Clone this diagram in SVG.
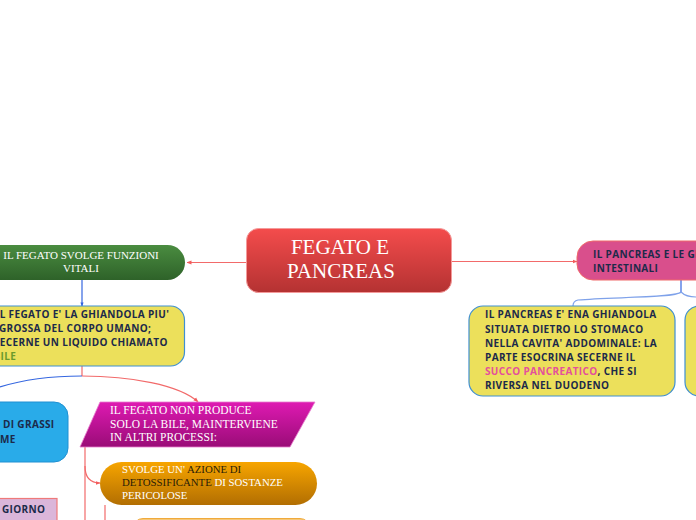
<svg xmlns="http://www.w3.org/2000/svg" width="696" height="520" viewBox="0 0 696 520">
<defs>
<linearGradient id="gRed" x1="0" y1="0" x2="0" y2="1"><stop offset="0" stop-color="#f44c4c"/><stop offset="1" stop-color="#b43232"/></linearGradient>
<linearGradient id="gGreen" x1="0" y1="0" x2="0" y2="1"><stop offset="0" stop-color="#4a8c40"/><stop offset="1" stop-color="#2e6229"/></linearGradient>
<linearGradient id="gMag" x1="0" y1="0" x2="0" y2="1"><stop offset="0" stop-color="#de1ab2"/><stop offset="1" stop-color="#9a0c77"/></linearGradient>
<linearGradient id="gOr" x1="0" y1="0" x2="0" y2="1"><stop offset="0" stop-color="#f7a500"/><stop offset="1" stop-color="#b26e02"/></linearGradient>
<marker id="aRed" viewBox="0 0 10 10" refX="9" refY="5" markerWidth="5" markerHeight="5" orient="auto" markerUnits="userSpaceOnUse"><path d="M0,1 L10,5 L0,9 z" fill="#f25c5c"/></marker>
<marker id="aBlue" viewBox="0 0 10 10" refX="9" refY="5" markerWidth="4" markerHeight="4" orient="auto" markerUnits="userSpaceOnUse"><path d="M0,1 L10,5 L0,9 z" fill="#2f62e0"/></marker>
</defs>
<style>
.serif{font-family:"Liberation Serif","Times New Roman",serif;fill:#ffffff}
.sans{font-family:"Open Sans","Noto Sans","DejaVu Sans",sans-serif;font-weight:700;font-size:10px;letter-spacing:0.35px;fill:#1c2a4a}
.red{fill:none;stroke:#f26a6a;stroke-width:1.2}
.blue{fill:none;stroke:#3466e0;stroke-width:1.2}
.lblue{fill:none;stroke:#7fa2ea;stroke-width:1.2}
.yel{fill:#ece05b;stroke:#3f8fd2;stroke-width:1.2}
</style>
<rect width="696" height="520" fill="#ffffff"/>
<g id="connectors">
<path class="red" d="M247,262.5 L187,262.5" marker-end="url(#aRed)"/>
<path class="red" d="M452,261.5 L577,261.5" marker-end="url(#aRed)"/>
<path class="blue" d="M82,280 L82,306" marker-end="url(#aBlue)"/>
<path class="red" d="M82,366 L82,376"/>
<path class="blue" d="M82,376 C55,376 25,379 0,387"/>
<path class="red" d="M82,376 C130,376 180,385 198,402" marker-end="url(#aRed)"/>
<path class="red" d="M85,447 L85,520"/>
<path class="red" d="M85,466 Q85,483 100,483" marker-end="url(#aRed)"/>
<path class="red" d="M105,505 L105,520"/>
<path class="blue" d="M681,280 L681,292"/>
<path class="lblue" d="M681,292 C676,298 610,297 578,300 Q573,301 573,306"/>
<path class="lblue" d="M681,292 C686,297 692,297 696,297"/>
</g>
<g id="node-center">
<rect x="246.5" y="228.5" width="205" height="64" rx="12" fill="url(#gRed)" stroke="#f49a9a" stroke-width="1"/>
<text class="serif" font-size="21" text-anchor="middle"><tspan x="340" y="254">FEGATO E</tspan><tspan x="341" y="278">PANCREAS</tspan></text>
</g>
<g id="node-fegato">
<rect x="-30" y="245" width="215" height="35" rx="17.5" fill="url(#gGreen)"/>
<text class="serif" font-size="11" text-anchor="middle"><tspan x="81" y="259">IL FEGATO SVOLGE FUNZIONI</tspan><tspan x="81" y="272">VITALI</tspan></text>
</g>
<g id="node-ghiandola">
<rect class="yel" x="-30" y="306" width="214.5" height="60" rx="14"/>
<text class="sans"><tspan x="-4" y="318">IL FEGATO E' LA GHIANDOLA PIU'</tspan><tspan x="-1" y="332">GROSSA DEL CORPO UMANO;</tspan><tspan x="-6" y="346">SECERNE UN LIQUIDO CHIAMATO</tspan><tspan x="-6.5" y="360" fill="#6b9a2c">BILE</tspan></text>
</g>
<g id="node-grassi">
<rect x="-30" y="402" width="98" height="60" rx="14" fill="#29abe9" stroke="#2090d2" stroke-width="1"/>
<text class="sans"><tspan x="3" y="428">DI GRASSI</tspan><tspan x="0" y="442.5">ME</tspan></text>
</g>
<g id="node-processi">
<polygon points="100,402 315,402 290,447 80,447" fill="url(#gMag)" stroke="#e77ccd" stroke-width="0.8"/>
<text class="serif" font-size="11.5"><tspan x="110" y="414">IL FEGATO NON PRODUCE</tspan><tspan x="110" y="427.5">SOLO LA BILE, MAINTERVIENE</tspan><tspan x="110" y="441">IN ALTRI PROCESSI:</tspan></text>
</g>
<g id="node-detox">
<rect x="100" y="462" width="217" height="43" rx="21.5" fill="url(#gOr)"/>
<text class="serif" font-size="10.8"><tspan x="122" y="473">SVOLGE UN' <tspan fill="#2a1d08">AZIONE DI</tspan></tspan><tspan x="122" y="486"><tspan fill="#2a1d08">DETOSSIFICANTE</tspan> DI SOSTANZE</tspan><tspan x="122" y="499">PERICOLOSE</tspan></text>
</g>
<g id="node-bottom">
<rect x="133" y="518.5" width="177" height="30" rx="10" fill="#f6c776" stroke="#f0aa3c" stroke-width="1"/>
</g>
<g id="node-giorno">
<rect x="-20" y="498.5" width="77" height="40" fill="#dbb6da" stroke="#ef7a7a" stroke-width="1.2"/>
<text class="sans"><tspan x="2" y="513">GIORNO</tspan></text>
</g>
<g id="node-pancreas-title">
<rect x="577" y="241" width="160" height="39" rx="16" fill="#d94f8c" stroke="#f06a6a" stroke-width="1"/>
<text class="sans"><tspan x="593" y="258">IL PANCREAS E LE GH</tspan><tspan x="593" y="272">INTESTINALI</tspan></text>
</g>
<g id="node-pancreas">
<rect class="yel" x="469" y="306" width="206" height="90" rx="14"/>
<text class="sans"><tspan x="485" y="318">IL PANCREAS E' ENA GHIANDOLA</tspan><tspan x="485" y="332.5">SITUATA DIETRO LO STOMACO</tspan><tspan x="485" y="347">NELLA CAVITA' ADDOMINALE: LA</tspan><tspan x="485" y="361">PARTE ESOCRINA SECERNE IL</tspan><tspan x="485" y="375"><tspan fill="#e4509b">SUCCO PANCREATICO</tspan>, CHE SI</tspan><tspan x="485" y="389">RIVERSA NEL DUODENO</tspan></text>
</g>
<g id="node-right">
<rect class="yel" x="685" y="306" width="60" height="90" rx="14"/>
</g>
</svg>
